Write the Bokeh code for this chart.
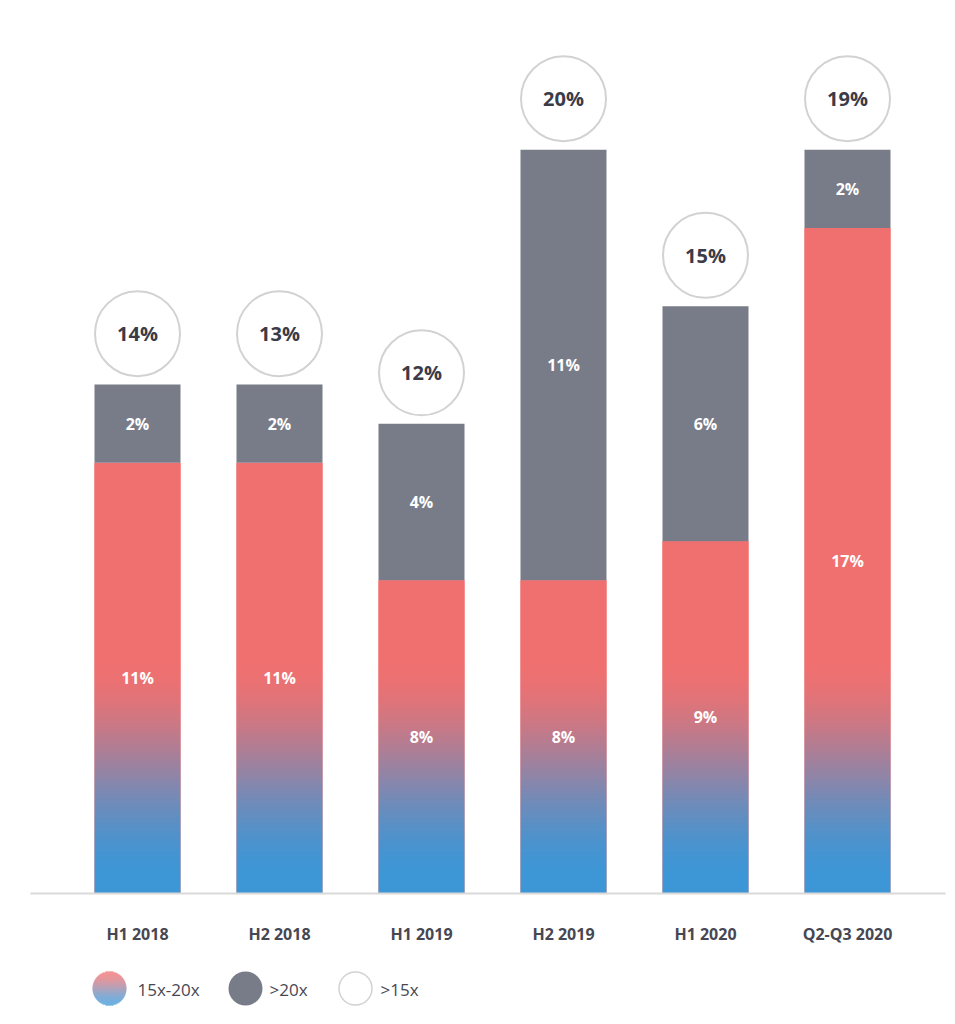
import numpy as np
from bokeh.plotting import figure
from bokeh.layouts import column
from bokeh.models import Range1d, FixedTicker
from bokeh.core.properties import value
from bokeh.embed import file_html
from bokeh.resources import INLINE

# ---------------- data ----------------
categories = ["H1 2018", "H2 2018", "H1 2019", "H2 2019", "H1 2020", "Q2-Q3 2020"]
share_15x_20x = [11, 11, 8, 8, 9, 17]      # gradient segment
share_over_20x = [2, 2, 4, 11, 6, 2]       # gray segment
share_over_15x = [14, 13, 12, 20, 15, 19]  # circle totals
legend_labels = ["15x-20x", ">20x", ">15x"]

# ---------------- style ----------------
RED = (240, 112, 112)
BLUE = (61, 150, 214)
GRAY = "#787C88"
FONT = "Open Sans"
DARK = "#3B3B48"
LABEL = "#474753"
G0, G1 = 0.3, 6.0          # gradient: blue at G0, red from G1 upward (value units)


def mix_rgb(frac):
    """frac 0 -> blue, 1 -> red (smoothstep eased)"""
    frac = max(0.0, min(1.0, frac))
    frac = frac * frac * (3 - 2 * frac)
    return [int(round(b + (r - b) * frac)) for r, b in zip(RED, BLUE)]


def mix(frac):
    return "#%02X%02X%02X" % tuple(mix_rgb(frac))


RED_HEX = mix(1.0)

x = list(range(len(categories)))
PX = 142.0                 # pixels per category
W = 86 / PX                # bar width
FRAME_W = 915
x_start = -107 / PX
x_end = x_start + FRAME_W / PX

p = figure(width=947, height=950,
           x_range=Range1d(x_start, x_end), y_range=Range1d(0, 22.35),
           output_backend="svg", toolbar_location=None, y_axis_location=None,
           min_border_left=30, min_border_right=2, min_border_top=18,
           min_border_bottom=57)
p.outline_line_color = None
p.grid.visible = False
p.background_fill_color = "white"
p.border_fill_color = "white"

# base (red) segment
p.vbar(x=x, width=W, bottom=0, top=share_15x_20x, fill_color=RED_HEX, line_color=None)

# gradient fill of the 15x-20x segment as one image per bar
ROWS_PER_UNIT = 20
imgs, ix, idw, idh = [], [], [], []
for xi, m in zip(x, share_15x_20x):
    rows = int(m * ROWS_PER_UNIT)
    arr = np.zeros((rows, 2), dtype=np.uint32)
    view = arr.view(dtype=np.uint8).reshape((rows, 2, 4))
    for rr in range(rows):
        yv = (rr + 0.5) / ROWS_PER_UNIT
        c = mix_rgb((yv - G0) / (G1 - G0))
        view[rr, :, 0] = c[0]
        view[rr, :, 1] = c[1]
        view[rr, :, 2] = c[2]
        view[rr, :, 3] = 255
    imgs.append(arr)
    ix.append(xi - W / 2)
    idw.append(W)
    idh.append(m)
p.image_rgba(image=imgs, x=ix, y=[0] * len(x), dw=idw, dh=idh)

# gray segment
tops = [a + b for a, b in zip(share_15x_20x, share_over_20x)]
p.vbar(x=x, width=W, bottom=share_15x_20x, top=tops, fill_color=GRAY, line_color=None)

# inside labels
p.text(x=x, y=[m / 2 for m in share_15x_20x], text=[f"{v}%" for v in share_15x_20x],
       text_align="center", text_baseline="middle", text_color="white",
       text_font=value(FONT), text_font_style="bold", text_font_size="16px")
p.text(x=x, y=[a + b / 2 for a, b in zip(share_15x_20x, share_over_20x)],
       text=[f"{v}%" for v in share_over_20x],
       text_align="center", text_baseline="middle", text_color="white",
       text_font=value(FONT), text_font_style="bold", text_font_size="16px")

# total circles above bars
cy = [t + 1.3 for t in tops]
p.scatter(x=x, y=cy, marker="circle", size=85, fill_color="white",
          line_color="#D2D2D2", line_width=2)
p.text(x=x, y=cy, text=[f"{v}%" for v in share_over_15x],
       text_align="center", text_baseline="middle", text_color=DARK,
       text_font=value(FONT), text_font_style="bold", text_font_size="20px")

# x axis
p.xaxis.ticker = FixedTicker(ticks=x)
p.xaxis.major_label_overrides = {i: c for i, c in zip(x, categories)}
p.xaxis.major_tick_line_color = None
p.xaxis.minor_tick_line_color = None
p.xaxis.axis_line_color = "#D9D9D9"
p.xaxis.axis_line_width = 2
p.xaxis.major_label_standoff = 23
p.xaxis.major_label_text_font = FONT
p.xaxis.major_label_text_font_size = "16px"
p.xaxis.major_label_text_color = LABEL
p.xaxis.major_label_text_font_style = "bold"

# ---------------- legend ----------------
# the column aligns this frame with the main frame (page x 30..945)
lg = figure(width=947, height=70, x_range=Range1d(30, 945), y_range=Range1d(1020, 950),
            output_backend="svg", toolbar_location=None,
            x_axis_location=None, y_axis_location=None,
            min_border_left=30, min_border_right=2, min_border_top=0, min_border_bottom=0)
lg.outline_line_color = None
lg.grid.visible = False

ccx, ccy, r = 109, 988, 17
ql, qr, qt, qb, qc = [], [], [], [], []
for j in range(2 * r):
    y0 = ccy - r + j
    ym = y0 + 0.5
    hw = np.sqrt(max(r * r - (ym - ccy) ** 2, 0))
    ql.append(ccx - hw)
    qr.append(ccx + hw)
    qt.append(y0)
    qb.append(y0 + 1.1)
    qc.append(mix(1 - (ym - (ccy - r)) / (2 * r)))
lg.quad(left=ql, right=qr, top=qt, bottom=qb, fill_color=qc, line_color=None)

lg.scatter(x=[245], y=[ccy], marker="circle", size=34, fill_color=GRAY, line_color=None)
lg.scatter(x=[355], y=[ccy], marker="circle", size=33, fill_color="white",
           line_color="#D2D2D2", line_width=1.5)
lg.text(x=[137, 269, 380], y=[ccy + 1] * 3, text=legend_labels,
        text_align="left", text_baseline="middle", text_color=LABEL,
        text_font=value(FONT), text_font_size="17px")

layout = column(p, lg, spacing=0)
open("out.html", "w").write(file_html(layout, INLINE))
